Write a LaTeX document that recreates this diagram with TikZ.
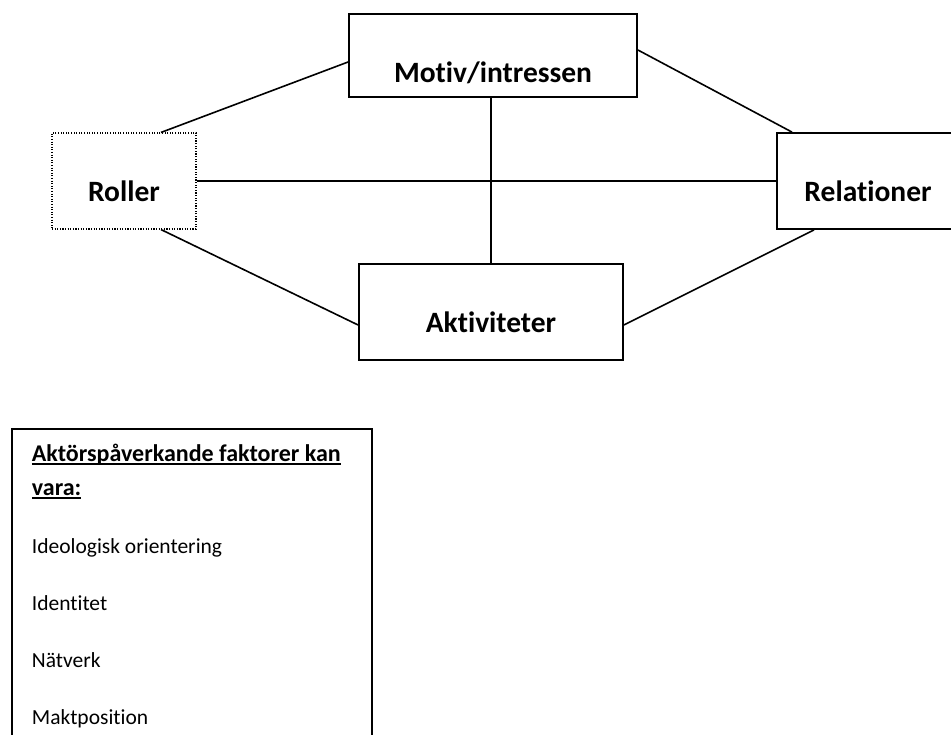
\documentclass[tikz,border=0pt]{standalone}
\usepackage{fontspec}
\setmainfont{Carlito}[Ligatures=NoCommon]
\usetikzlibrary{calc}

\tikzset{
  concept/.style={draw,line width=1.8pt,inner sep=0pt,align=center,
    font=\bfseries\fontsize{29.5}{31}\selectfont,text height=69pt,text depth=27pt},
  dottedbox/.style={line width=1.1pt,dash pattern=on 1.1pt off 1.5pt},
  link/.style={-,line width=1.6pt}
}
\newcommand{\wordul}[1]{\leavevmode\setbox0\hbox{#1}\rlap{\rule[-3pt]{\wd0}{2pt}}\box0}

\begin{document}
\begin{tikzpicture}[x=1pt,y=-1pt]
    \useasboundingbox (0,0) rectangle (951,735);

    % Four concept boxes
    \node[concept,text width=288pt,text depth=14pt] (motiv) at (493,55.5) {Motiv/intressen};
    \node[concept,dottedbox,text width=144pt] (roller) at (124,181) {Roller};
    \node[concept,text width=182pt] (relationer) at (868,181) {Relationer};
    \node[concept,text width=264pt] (aktiviteter) at (491,312) {Aktiviteter};

    % Links between the boxes
    \draw[link] ([xshift=37pt]roller.north) -- ([yshift=-6.5pt]motiv.west);
    \draw[link] (roller.east) -- (roller.east -| relationer.west);
    \draw[link] ([xshift=37pt]roller.south) -- ([yshift=-13pt]aktiviteter.west);
    \draw[link] ([yshift=5.5pt]motiv.east) -- ([xshift=-76pt]relationer.north);
    \draw[link] ([xshift=-54pt]relationer.south) -- ([yshift=-13pt]aktiviteter.east);
    \draw[link] (aktiviteter.north |- motiv.south) -- (aktiviteter.north);

    % Factor list
    \node[draw,line width=1.8pt,anchor=north west,inner xsep=20pt,inner ysep=0pt,
          text width=320pt,align=flush left,text height=33pt,text depth=284pt,
          font=\fontsize{21.5}{34}\selectfont] (faktorer) at (11,428)
        {\spaceskip=0pt\xspaceskip=0pt
         {\bfseries\fontsize{24}{34}\selectfont\wordul{Aktörspåverkande faktorer kan}}\\
         {\bfseries\fontsize{24}{34}\selectfont\wordul{vara:}}\\[24pt]
         Ideologisk orientering\\[23pt]
         Identitet\\[23pt]
         Nätverk\\[23pt]
         Maktposition};
\end{tikzpicture}
\end{document}
